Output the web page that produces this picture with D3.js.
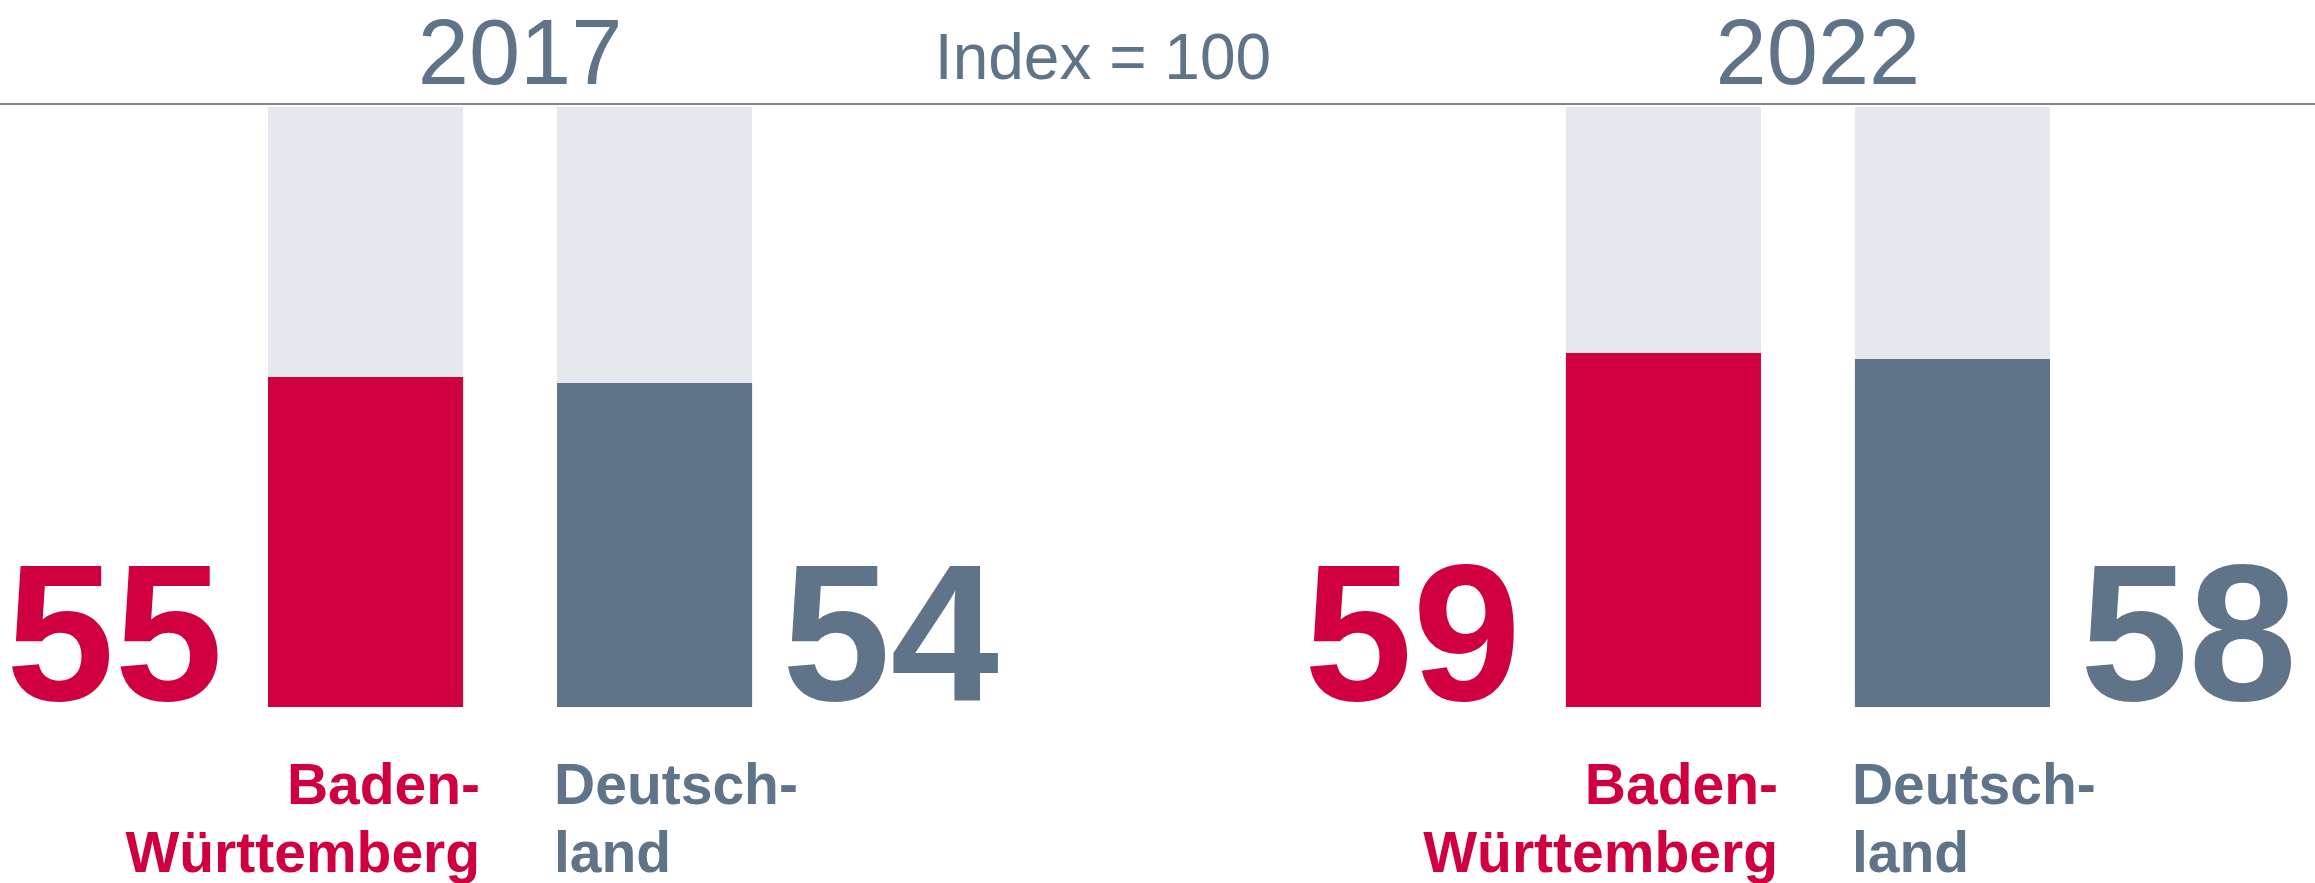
<!DOCTYPE html>
<html>
<head>
<meta charset="utf-8">
<script src="https://cdn.jsdelivr.net/npm/d3@7"></script>
<style>
  body { margin: 0; background: #fff; }
  text { font-family: "Liberation Sans", Arial, sans-serif; }
</style>
</head>
<body>
<script>
var width = 2315;
var height = 883;

// data
var years = ['2017', '2022'];
var regions = ['Baden-Württemberg', 'Deutschland'];
var values2017 = [55, 54];
var values2022 = [59, 58];
var regionLines = [['Baden-', 'Württemberg'], ['Deutsch-', 'land']];
var indexLabel = 'Index = 100';

var red = '#d00040';
var slate = '#5f7389';
var back = '#e5e9ee';
var colors = [red, slate];

var valuesByYear = { '2017': values2017, '2022': values2022 };

var svg = d3.select('body')
  .append('svg')
  .attr('width', width)
  .attr('height', height);

// scales
var x0 = d3.scaleBand().domain(years).range([268, 2050]).paddingInner(0.627).paddingOuter(0);
var x1 = d3.scaleBand().domain(regions).range([0, x0.bandwidth()]).paddingInner(0.325).paddingOuter(0);
var y = d3.scaleLinear().domain([0, 100]).range([707, 107]);

// header
svg.append('line')
  .attr('x1', 0).attr('x2', width)
  .attr('y1', 104).attr('y2', 104)
  .attr('stroke', '#858585')
  .attr('stroke-width', 2);

svg.append('text')
  .attr('x', 1103).attr('y', 79)
  .attr('text-anchor', 'middle')
  .attr('fill', slate)
  .attr('font-size', 64)
  .text(indexLabel);

var groups = svg.selectAll('g.year')
  .data(years)
  .enter().append('g')
  .attr('class', 'year')
  .attr('transform', function(d) { return 'translate(' + x0(d) + ',0)'; });

// year headings (kept inside the top edge)
groups.append('text')
  .attr('x', x0.bandwidth() / 2 + 10)
  .attr('y', 84)
  .attr('text-anchor', 'middle')
  .attr('fill', slate)
  .attr('font-size', 92)
  .text(function(d) { return d; });

var bars = groups.selectAll('g.bar')
  .data(function(yr) {
    return regions.map(function(r, i) { return { year: yr, region: r, i: i, value: valuesByYear[yr][i] }; });
  })
  .enter().append('g')
  .attr('class', 'bar');

// background (index = 100)
bars.append('rect')
  .attr('x', function(d) { return x1(d.region); })
  .attr('y', y(100))
  .attr('width', x1.bandwidth())
  .attr('height', y(0) - y(100))
  .attr('fill', back);

// value bar
bars.append('rect')
  .attr('x', function(d) { return x1(d.region); })
  .attr('y', function(d) { return y(d.value); })
  .attr('width', x1.bandwidth())
  .attr('height', function(d) { return y(0) - y(d.value); })
  .attr('fill', function(d) { return colors[d.i]; });

// big value labels
bars.append('text')
  .attr('x', function(d) { return d.i === 0 ? x1(d.region) - 45 : x1(d.region) + x1.bandwidth() + 30; })
  .attr('y', 700)
  .attr('text-anchor', function(d) { return d.i === 0 ? 'end' : 'start'; })
  .attr('fill', function(d) { return colors[d.i]; })
  .attr('font-size', 195)
  .attr('font-weight', 'bold')
  .text(function(d) { return d.value; });

// region labels
var lab = bars.append('text')
  .attr('text-anchor', function(d) { return d.i === 0 ? 'end' : 'start'; })
  .attr('fill', function(d) { return colors[d.i]; })
  .attr('font-size', 57)
  .attr('font-weight', 'bold');

lab.selectAll('tspan')
  .data(function(d) {
    var xx = d.i === 0 ? x1(d.region) + x1.bandwidth() + 17 : x1(d.region) - 3;
    return regionLines[d.i].map(function(t) { return { t: t, x: xx }; });
  })
  .enter().append('tspan')
  .attr('x', function(d) { return d.x; })
  .attr('y', function(d, j) { return 804 + j * 68; })
  .text(function(d) { return d.t; });
</script>
</body>
</html>
